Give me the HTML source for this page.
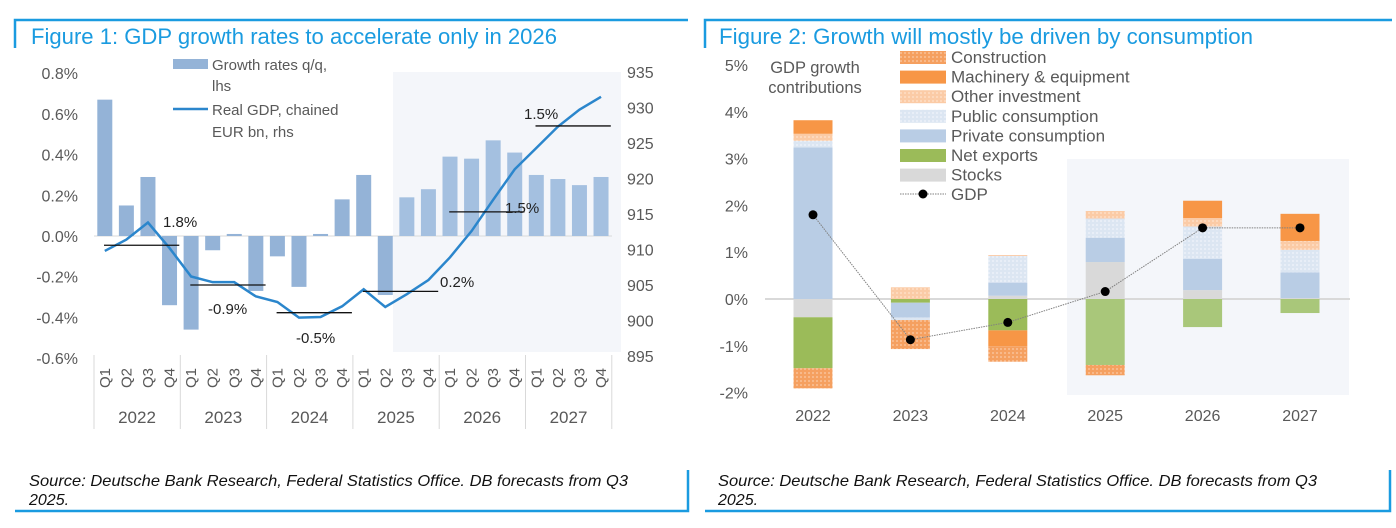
<!DOCTYPE html>
<html><head><meta charset="utf-8">
<style>
body{margin:0;width:1396px;height:528px;background:#fff;overflow:hidden;font-family:"Liberation Sans",sans-serif;}
svg{position:absolute;left:0;top:0}
</style></head>
<body>
<svg id="s" width="1396" height="528">
<defs>
<pattern id="hatchC" width="4" height="4" patternUnits="userSpaceOnUse"><rect width="4" height="4" fill="#f5a060"/><rect width="2" height="2" fill="#f8b98a"/></pattern>
<pattern id="hatchO" width="4" height="4" patternUnits="userSpaceOnUse"><rect width="4" height="4" fill="#fbcba6"/><rect width="2" height="2" fill="#fdd9bd"/></pattern>
<pattern id="hatchP" width="4" height="4" patternUnits="userSpaceOnUse"><rect width="4" height="4" fill="#dce6f2"/><rect width="2" height="2" fill="#e8eef7"/></pattern>
</defs>
<g stroke="#1a9be0" stroke-width="2.5" fill="none">
<path d="M15,48 V20 H688"/><path d="M15,511 H688 V470"/>
</g>
<g stroke="#1a9be0" stroke-width="2.5" fill="none">
<path d="M705,48 V20 H1392"/><path d="M705,511 H1390 V470"/>
</g>
<text x="31" y="44" font-size="22" fill="#1a9be0" textLength="526" lengthAdjust="spacingAndGlyphs">Figure 1: GDP growth rates to accelerate only in 2026</text>
<text x="719" y="44" font-size="22" fill="#1a9be0" textLength="534" lengthAdjust="spacingAndGlyphs">Figure 2: Growth will mostly be driven by consumption</text>
<text font-size="16" font-style="italic" fill="#111"><tspan x="29" y="486" textLength="599" lengthAdjust="spacingAndGlyphs">Source: Deutsche Bank Research, Federal Statistics Office. DB forecasts from Q3</tspan><tspan x="29" y="505">2025.</tspan></text>
<text font-size="16" font-style="italic" fill="#111"><tspan x="718" y="486" textLength="599" lengthAdjust="spacingAndGlyphs">Source: Deutsche Bank Research, Federal Statistics Office. DB forecasts from Q3</tspan><tspan x="718" y="505">2025.</tspan></text>
<g id="c1"></g>
<g id="c2"></g>
</svg>
<script>
const NS="http://www.w3.org/2000/svg";
function mk(p,t,a,txt){const e=document.createElementNS(NS,t);for(const k in a)e.setAttribute(k,a[k]);if(txt!=null)e.textContent=txt;p.appendChild(e);return e;}

// ---------- Chart 1 data ----------
const years1=["2022","2023","2024","2025","2026","2027"];
const quarters=["Q1","Q2","Q3","Q4"];
const growthQQ=[0.67,0.15,0.29,-0.34,-0.46,-0.07,0.01,-0.27,-0.10,-0.25,0.01,0.18,0.30,-0.29,0.19,0.23,0.39,0.38,0.47,0.41,0.30,0.28,0.25,0.29];
const realGDP=[909.8,911.4,913.8,910.2,906.2,905.4,905.4,903.4,902.6,900.4,900.5,902.0,904.4,901.9,903.7,905.7,908.9,912.6,917.0,921.3,924.3,927.3,929.7,931.5];
const annualGrowth=[1.8,-0.9,-0.5,0.2,1.5,1.5];
const annualLevel=[910.6,905.0,901.1,904.1,915.3,927.4];
const leftTicks=[0.8,0.6,0.4,0.2,0,-0.2,-0.4,-0.6];
const rightTicks=[935,930,925,920,915,910,905,900,895];

const c1=document.getElementById('c1');
const yL=v=>236-v*203.5;
const yR=v=>72+(935-v)*7.1;
const qx=i=>94+86.3*(i/4)+10.8;
mk(c1,'rect',{x:393,y:72,width:228,height:280,fill:'#f4f6fa',});
leftTicks.forEach(t=>{const e=mk(c1,'text',{x:78,y:yL(t)+6,'text-anchor':'end','font-size':16,fill:'#595959'},(t===0?'0.0':t.toFixed(1))+'%');});
rightTicks.forEach(t=>{const e=mk(c1,'text',{x:627,y:yR(t)+6,'font-size':16,fill:'#595959'},t);});
let zl=mk(c1,'line',{x1:94,x2:612,y1:yL(0),y2:yL(0),stroke:'#d9d9d9'});

growthQQ.forEach((v,i)=>{const y=Math.min(yL(0),yL(v));const r=mk(c1,'rect',{x:qx(i)-7.5,y:y,width:15,height:Math.abs(yL(v)-yL(0)),fill:i>=14?'#a4c0e0':'#94b3d7'});});
let pl=mk(c1,'polyline',{points:realGDP.map((v,i)=>qx(i)+','+yR(v)).join(' '),fill:'none',stroke:'#2b86cc','stroke-width':2.5});

annualLevel.forEach((v,k)=>{const x0=94+86.3*k+10,x1=94+86.3*(k+1)-1;const l=mk(c1,'line',{x1:x0,x2:x1,y1:yR(v),y2:yR(v),stroke:'#111','stroke-width':1.3});
 const pos=[[163,227,'start'],[208,314,'start'],[296,343,'start'],[440,287,'start'],[505,213,'start'],[524,119,'start']][k];
 const t=mk(c1,'text',{x:pos[0],y:pos[1],'font-size':15,fill:'#222'},annualGrowth[k].toFixed(1)+'%');});
for(let k=0;k<=6;k++){const l=mk(c1,'line',{x1:94+86.3*k,x2:94+86.3*k,y1:355,y2:429,stroke:'#d9d9d9'});}
for(let i=0;i<24;i++){const x=qx(i)+5;const t=mk(c1,'text',{x:x,y:378,transform:`rotate(-90 ${x} 378)`,'text-anchor':'middle','font-size':15,fill:'#595959'},quarters[i%4]);}
years1.forEach((y,k)=>{const t=mk(c1,'text',{x:94+86.3*k+43,y:423,'text-anchor':'middle','font-size':17,fill:'#595959'},y);});
let lg1=mk(c1,'g',{});
mk(lg1,'rect',{x:173,y:59,width:35,height:10,fill:'#94b3d7'});
mk(lg1,'text',{x:212,y:70,'font-size':15,fill:'#595959'},'Growth rates q/q,');
mk(lg1,'text',{x:212,y:91,'font-size':15,fill:'#595959'},'lhs');
mk(lg1,'line',{x1:173,x2:208,y1:109,y2:109,stroke:'#2b86cc','stroke-width':2.5});
mk(lg1,'text',{x:212,y:115,'font-size':15,fill:'#595959'},'Real GDP, chained');
mk(lg1,'text',{x:212,y:137,'font-size':15,fill:'#595959'},'EUR bn, rhs');

// ---------- Chart 2 data ----------
const years2=["2022","2023","2024","2025","2026","2027"];
const stocks=[-0.39,0,0.07,0.79,0.19,0.02];
const netExports=[-1.09,-0.08,-0.67,-1.41,-0.60,-0.30];
const privateCons=[3.24,-0.32,0.28,0.52,0.67,0.55];
const publicCons=[0.14,-0.05,0.57,0.41,0.69,0.48];
const otherInv=[0.15,0.25,0.02,0.16,0.18,0.19];
const machinery=[0.29,0,-0.34,0,0.37,0.58];
const construction=[-0.43,-0.62,-0.33,-0.22,0,0];
const gdpAnnual=[1.8,-0.87,-0.5,0.16,1.52,1.52];
const yTicks2=[5,4,3,2,1,0,-1,-2];

const c2=document.getElementById('c2');
const y2=v=>299-v*46.8;
const x2=k=>813+97.4*k;
mk(c2,'rect',{x:1067,y:159,width:282,height:236,fill:'#f4f6fa',});
yTicks2.forEach(t=>{const e=mk(c2,'text',{x:748,y:y2(t)+6,'text-anchor':'end','font-size':16,fill:'#595959'},t+'%');});
let z2=mk(c2,'line',{x1:765,x2:1350,y1:y2(0),y2:y2(0),stroke:'#d9d9d9','stroke-width':2});

const series=[[stocks,'#d9d9d9','stocks'],[netExports,'#9bbb59','net-exports'],[privateCons,'#b9cde5','private-consumption'],[publicCons,'url(#hatchP)','public-consumption'],[otherInv,'url(#hatchO)','other-investment'],[machinery,'#f79646','machinery'],[construction,'url(#hatchC)','construction']];
years2.forEach((yr,k)=>{let pos=0,neg=0;series.forEach(([arr,col,nm])=>{const v=arr[k];if(!v)return;let a,b;if(v>0){a=pos;b=pos+v;pos=b;}else{a=neg;b=neg+v;neg=b;}
 const r=mk(c2,'rect',{x:x2(k)-19.5,y:y2(Math.max(a,b)),width:39,height:Math.abs(y2(a)-y2(b)),fill:(k>=3&&col==='#9bbb59')?'#a9c77a':col});
 });
 const t=mk(c2,'text',{x:x2(k),y:421,'text-anchor':'middle','font-size':16,fill:'#595959'},yr);});
let gl=mk(c2,'polyline',{points:gdpAnnual.map((v,k)=>x2(k)+','+y2(v)).join(' '),fill:'none',stroke:'#808080','stroke-width':1,'stroke-dasharray':'1.5 1'});

gdpAnnual.forEach((v,k)=>{const c=mk(c2,'circle',{cx:x2(k),cy:y2(v),r:4.5,fill:'#000'});});
let lg2=mk(c2,'g',{});
const legItems=[['Construction','url(#hatchC)'],['Machinery & equipment','#f79646'],['Other investment','url(#hatchO)'],['Public consumption','url(#hatchP)'],['Private consumption','#b9cde5'],['Net exports','#9bbb59'],['Stocks','#d9d9d9']];
legItems.forEach(([n,c],i)=>{const y=57+19.6*i;mk(lg2,'rect',{x:900,y:y-6,width:46,height:13,fill:c});mk(lg2,'text',{x:951,y:y+6,'font-size':17,fill:'#595959'},n);});
mk(lg2,'line',{x1:900,x2:946,y1:194,y2:194,stroke:'#808080','stroke-dasharray':'1.5 1'});
mk(lg2,'circle',{cx:923,cy:194,r:4.5,fill:'#000'});
mk(lg2,'text',{x:951,y:200,'font-size':17,fill:'#595959'},'GDP');
let gt=mk(c2,'text',{'font-size':16.5,fill:'#595959','text-anchor':'middle'});

mk(gt,'tspan',{x:815,y:73},'GDP growth');mk(gt,'tspan',{x:815,y:93},'contributions');
</script>
</body></html>
